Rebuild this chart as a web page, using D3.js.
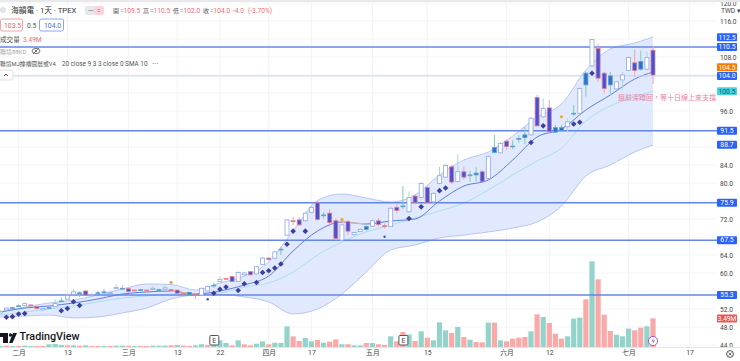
<!DOCTYPE html>
<html>
<head>
<meta charset="utf-8">
<script src="https://cdn.jsdelivr.net/npm/d3@7/dist/d3.min.js"></script>
<style>
  html, body { margin: 0; padding: 0; background: #fff; }
  svg { display: block; }
  text { font-family: Roboto, "Noto Sans CJK TC", sans-serif; }
</style>
</head>
<body>
<svg id="chart" width="740" height="361"></svg>
<script>
// candles
const opens = [51.1,51.8,52.3,52.6,52.8,52.9,52.5,51.8,52.3,52.5,53.8,54.2,55.2,55.6,56.0,55.0,55.6,55.8,55.4,56.5,56.6,56.5,56.2,56.3,56.2,56.3,56.3,56.4,56.3,56.2,55.5,55.7,55.3,55.1,56.0,57.3,58.1,58.8,59.2,58.1,59.6,60.3,59.8,61.9,63.3,63.3,65.3,68.4,71.6,71.8,71.6,73.5,75.6,72.9,73.3,71.6,67.3,71.4,68.5,69.2,70.3,70.4,71.6,70.5,70.3,74.6,74.9,73.6,77.1,76.8,79.0,75.8,79.9,81.3,83.6,80.3,82.5,81.8,82.2,82.5,81.0,87.9,86.7,89.3,88.2,89.9,90.7,90.7,99.0,94.7,96.7,92.3,92.3,92.5,95.5,95.5,104.4,106.0,109.9,104.4,103.8,100.9,102.9,105.0,106.7,107.0,105.3,109.5];
const closes = [51.5,52.2,52.3,52.7,53.2,52.7,52.1,52.1,52.3,53.2,53.8,55.0,55.8,55.4,55.1,55.2,55.6,55.8,55.7,56.8,56.6,55.9,56.2,56.1,56.2,56.6,56.3,56.7,56.2,55.5,55.5,55.2,55.1,56.6,57.0,57.3,58.6,58.8,58.1,60.1,60.0,59.6,61.4,63.3,63.0,64.7,65.3,71.8,71.6,70.7,73.3,74.6,71.9,72.9,71.2,67.7,70.7,69.3,69.0,69.7,69.7,71.6,70.8,70.5,74.4,73.9,74.9,76.8,75.6,79.9,75.6,77.7,81.6,83.9,80.2,82.5,81.3,81.8,81.8,80.3,85.9,86.8,88.8,88.1,88.2,89.9,90.1,94.4,92.7,96.6,91.4,91.3,91.6,93.6,95.5,101.0,101.8,111.9,103.3,101.0,101.8,102.5,104.0,107.9,105.0,105.3,107.9,104.0];
const highs = [51.8,52.4,52.5,53.0,53.4,53.0,52.6,52.2,52.5,54.1,54.6,55.5,56.4,55.9,56.1,55.5,56.0,56.4,55.8,57.3,57.3,56.6,56.3,56.4,56.3,57.1,56.5,57.6,56.4,56.4,55.6,55.8,55.3,56.8,57.2,57.9,59.2,58.9,59.3,60.4,60.3,60.4,61.6,63.6,63.5,65.0,65.9,72.0,72.5,72.4,73.6,74.9,76.0,73.6,74.2,72.2,71.0,71.8,69.2,70.0,70.8,71.9,72.2,71.0,74.7,75.3,79.3,78.1,77.5,80.2,79.4,78.0,83.6,84.2,84.0,86.4,83.6,82.7,83.5,82.8,86.2,90.7,89.1,89.6,89.5,90.6,92.5,94.7,99.6,98.8,98.4,92.9,92.9,94.4,97.3,101.3,104.7,112.0,111.0,104.7,104.7,102.7,104.7,108.1,109.6,109.4,109.2,110.5];
const lows = [50.9,51.6,52.1,52.5,52.7,52.6,51.9,51.7,52.2,52.4,53.6,54.1,55.1,54.7,55.1,54.9,55.3,55.7,55.3,56.4,56.4,55.6,56.1,56.0,56.1,56.3,56.2,56.3,55.8,55.2,55.2,55.1,54.2,55.0,55.9,56.7,57.9,58.6,58.0,58.0,59.4,59.5,59.7,61.8,62.8,63.2,64.0,68.2,70.7,70.5,71.4,73.3,71.7,72.1,70.3,67.3,67.2,68.5,68.3,69.0,69.4,70.2,70.4,69.9,70.2,73.3,74.2,73.3,75.3,76.6,75.4,75.6,79.7,81.1,79.8,80.1,80.7,80.3,80.3,80.1,80.8,86.6,86.5,87.3,87.5,88.9,88.6,90.5,92.5,94.4,91.2,91.1,91.4,91.4,94.9,95.3,99.2,105.8,102.5,99.9,99.9,100.7,100.8,104.8,103.6,105.0,105.0,102.0];
// h = hollow, r = solid with red wick, t = solid with teal wick
const kinds = ["hhtthrrhth","thhtrhtthh","trrtrhthrr","rtrhhthrrh","hrhhrhthrr","hhrtrrhrhh","thrrhrthrh","rhhhrhrttr","hthrttthrh","rtthththrr","thhhrthr"].join("");

// volume in millions
const volumes = [0.12,0.16,0.12,0.12,0.16,0.12,0.12,0.12,0.33,0.37,0.24,0.20,0.20,0.16,0.20,0.12,0.12,0.12,0.12,0.16,0.16,0.16,0.12,0.12,0.12,0.16,0.16,0.16,0.20,0.24,0.16,0.12,0.20,0.33,0.24,0.37,0.81,0.49,0.20,0.81,0.33,0.20,0.41,0.69,0.33,0.53,0.49,2.52,1.30,0.73,1.10,0.69,0.85,0.53,0.65,0.93,0.33,0.33,0.20,0.20,0.49,0.49,0.33,0.24,1.30,0.69,1.83,1.54,0.73,1.91,1.14,0.81,3.01,2.03,1.71,2.44,1.22,0.89,0.61,0.57,2.97,2.97,0.81,0.69,1.02,1.14,1.22,1.91,3.98,3.66,2.93,1.63,1.02,1.30,3.46,3.58,5.81,10.45,8.25,3.94,1.95,1.50,1.30,2.24,2.03,2.36,2.52,3.49];
const volColors = ["trtrttrrtt","trtrtrrtrt","trtrrtttrt","rrttrtttrt","rrttrtttrr","ttrtrrtrtt","rtrrtrrtrt","rtttrtrtrr","trtrrrrtrt","rrrtttrtrr","rtttrrtr"].join("");

// bollinger band and the two averages, read every fourth candle
const bandIdx = [0,4,8,12,16,20,24,28,32,36,40,44,48,52,56,60,64,68,72,76,80,84,88,92,96,100,104,107];
const upper = [51.33,52.44,53.33,54,55.11,56.44,57.56,57.44,56.22,57.78,59.33,62.44,69.33,76.09,77.56,76.67,75.78,77.33,81.78,85.11,86.89,90.44,94.67,97.56,105.11,109.78,111.11,112.44];
const lower = [50.22,50.44,50.67,50,50.22,51.11,52.22,54.22,55.11,55.22,54.67,53.56,50.89,52,55.33,60.22,65.11,66.22,67.78,68.44,69.11,70,71.33,74.89,81.56,84,86.89,88.44];
const basis = [51.33,52.22,52.67,53.33,54.22,55.33,55.78,56,55.33,56,57.33,59.33,64.89,69.33,71.33,70.89,71.56,72,76,79.33,80.67,85.11,90.22,92,96.22,99.56,103.11,104.67];
const slowLine = [50.67,51.33,52,52.67,53.56,54.44,54.89,55.33,55.33,55.56,56.89,57.78,60.22,64,66.89,69.11,70.67,72.22,73.78,75.56,78.44,81.78,84.89,87.78,93.78,97.11,99.11,100.44];

// markers
const diamondIdx = [1,2,3,4,10,11,12,13,35,36,37,39,40,42,43,44,45,46,47,48,50,67,69,72,73,87,89,94,95,97];
const diamondVal = [50.16,50.3,50.9,51,51.6,52.1,53.6,52.8,55.5,56.4,56.9,56.1,57.6,57.9,60.1,60.5,61.1,62,66.4,69.3,69.3,72.1,74.7,78.3,78.9,89,92.7,93.1,93.5,104.4];
const dotIdx = [34,63];
const dotVal = [54.16,68.07];
const orangeIdx = [28,56,92];
const orangeVal = [57.9,71.9,94.7];

// price levels
const levelVal = [110.2,91.6,75.6,67.3,55.1];
const lastPrice = 103.8;
const tagVal = [112.4,110.2,105.7,103.8,100.4,91.6,88.5,75.6,67.3,55.1];
const tagText = ["112.5","110.5","104.5","104.0","100.5","91.5","88.7","75.9","67.5","55.3"];
const tagKind = ["b","b","o","b","c","b","b","b","b","b"];
const yTicks = [120,116,108,96,84,80,72,64,60,52,48,44];
const yGrid = d3.range(44, 121, 4);
const xTickIdx = [3,11,21,29,36,44,51,61,70,83,90,103,113];
const xTickText = ["二月","13","三月","13","22","四月","17","五月","15","六月","12","七月","17"];
const earningsIdx = [35,66];

const svg = d3.select("#chart");
const x = d3.scaleLinear().domain([0, 107]).range([0.3, 653]);
const y = d3.scaleLinear().domain([116, 44]).range([21, 345]);
const yVol = d3.scaleLinear().domain([0, 10.45]).range([347, 261.3]);

// grid
svg.append("g").selectAll("line").data(xTickIdx).join("line")
    .attr("x1", d => x(d)).attr("x2", d => x(d)).attr("y1", 3).attr("y2", 347)
    .attr("stroke", "#f2f3f6");
svg.append("g").selectAll("line").data(yGrid).join("line")
    .attr("x1", 0).attr("x2", 717).attr("y1", d => y(d)).attr("y2", d => y(d))
    .attr("stroke", "#f4f5f8");

// volume bars
svg.append("g").selectAll("rect").data(volumes).join("rect")
    .attr("x", (d, i) => x(i) - 2.6)
    .attr("width", 5.2)
    .attr("y", d => yVol(d))
    .attr("height", d => 347 - yVol(d))
    .attr("fill", (d, i) => volColors[i] == "t" ? "#93d3c9" : "#f8a9a8");

// band
const bandArea = d3.area()
    .x((d, i) => x(bandIdx[i]))
    .y0((d, i) => y(lower[i]))
    .y1((d, i) => y(upper[i]))
    .curve(d3.curveMonotoneX);
svg.append("path").attr("d", bandArea(bandIdx)).attr("fill", "#e1e9fe");

function lineOf(values) {
    return d3.line().x((d, i) => x(bandIdx[i])).y((d, i) => y(values[i])).curve(d3.curveMonotoneX)(bandIdx);
}
svg.append("path").attr("d", lineOf(upper)).attr("fill", "none").attr("stroke", "#a9b9ee").attr("stroke-width", 0.8);
svg.append("path").attr("d", lineOf(lower)).attr("fill", "none").attr("stroke", "#a9b9ee").attr("stroke-width", 0.8);
svg.append("path").attr("d", lineOf(slowLine)).attr("fill", "none").attr("stroke", "#a5dcec").attr("stroke-width", 0.9);
svg.append("path").attr("d", lineOf(basis)).attr("fill", "none").attr("stroke", "#5f7de0").attr("stroke-width", 1);

// basis goes orange where it falls
d3.range(bandIdx.length - 1).filter(i => basis[i + 1] < basis[i]).forEach(i => {
    svg.append("line")
        .attr("x1", x(bandIdx[i])).attr("y1", y(basis[i]))
        .attr("x2", x(bandIdx[i + 1])).attr("y2", y(basis[i + 1]))
        .attr("stroke", "#eeb98e")
        .attr("stroke-width", 1.2);
});

// levels
svg.append("line").attr("x1", 14).attr("x2", 717).attr("y1", y(lastPrice)).attr("y2", y(lastPrice))
    .attr("stroke", "#c8d0f3").attr("stroke-width", 1);
svg.append("g").selectAll("line").data(levelVal).join("line")
    .attr("x1", 0).attr("x2", 717).attr("y1", d => y(d)).attr("y2", d => y(d))
    .attr("stroke", "#6486e6").attr("stroke-width", 1.5);

// candles
const candle = svg.append("g").selectAll("g").data(opens).join("g");
candle.append("line")
    .attr("x1", (d, i) => x(i)).attr("x2", (d, i) => x(i))
    .attr("y1", (d, i) => y(highs[i])).attr("y2", (d, i) => y(lows[i]))
    .attr("stroke", (d, i) => kinds[i] == "r" ? "#f2a3aa" : kinds[i] == "t" ? "#7fcbb9" : "#a3dccf")
    .attr("stroke-width", 1);
candle.append("rect")
    .attr("x", (d, i) => x(i) - 2)
    .attr("width", 4)
    .attr("y", (d, i) => y(Math.max(opens[i], closes[i])))
    .attr("height", (d, i) => Math.max(Math.abs(y(opens[i]) - y(closes[i])), 0.8))
    .attr("fill", (d, i) => kinds[i] == "h" ? "#fff" : kinds[i] == "t" ? "#2f6fd0" : "#3e55da")
    .attr("stroke", (d, i) => kinds[i] == "h" ? "#8ea6ec" : kinds[i] == "t" ? "#5aa7c8" : "#ea7d88")
    .attr("stroke-width", 0.8);

// markers
svg.append("g").selectAll("path").data(diamondIdx).join("path")
    .attr("d", d3.symbol().type(d3.symbolDiamond2).size(20))
    .attr("transform", (d, i) => `translate(${x(d)},${y(diamondVal[i])})`)
    .attr("fill", "#3c3f9e");
svg.append("g").selectAll("circle").data(dotIdx).join("circle")
    .attr("cx", d => x(d)).attr("cy", (d, i) => y(dotVal[i])).attr("r", 1.2)
    .attr("fill", "#3d50c6");
svg.append("g").selectAll("circle").data(orangeIdx).join("circle")
    .attr("cx", d => x(d)).attr("cy", (d, i) => y(orangeVal[i])).attr("r", 1.7)
    .attr("fill", "#f2a93b");

// axes
const yAxis = d3.axisRight(y).tickValues(yTicks).tickSize(0).tickFormat(d3.format(".1f"));
const gy = svg.append("g").attr("transform", "translate(720,0)").call(yAxis);
gy.select(".domain").remove();
gy.selectAll("text").attr("x", 0).attr("dy", "0.32em").attr("font-size", 6.6)
    .attr("fill", "#444").style("font-family", "Roboto");
svg.append("rect").attr("x", 0).attr("y", 0).attr("width", 740).attr("height", 2).attr("fill", "#e9e9ec");

const xAxis = d3.axisBottom(x).tickValues(xTickIdx).tickSize(0).tickFormat((d, i) => xTickText[i]);
const gx = svg.append("g").attr("transform", "translate(0,347)").call(xAxis);
gx.select(".domain").attr("stroke", "#e4e5ea").attr("d", "M0,0.5H740");
gx.selectAll("text").attr("y", 3).attr("font-size", 6.8).attr("fill", "#444");

// price tags
const tag = svg.append("g").selectAll("g").data(tagVal).join("g")
    .attr("transform", d => `translate(717,${y(d)})`);
tag.append("rect").attr("x", 0).attr("y", -4).attr("width", 20).attr("height", 8).attr("rx", 1)
    .attr("fill", (d, i) => tagKind[i] == "o" ? "#f57c00" : tagKind[i] == "c" ? "#45d3e0" : "#2962ff");
tag.append("text").attr("x", 10).attr("dy", "0.34em").attr("text-anchor", "middle").attr("font-size", 6.8)
    .attr("fill", (d, i) => tagKind[i] == "c" ? "#0b5f66" : "#fff")
    .text((d, i) => tagText[i]);
svg.append("rect").attr("x", 717).attr("y", yVol(3.49) - 4).attr("width", 20).attr("height", 8).attr("rx", 1).attr("fill", "#ef5350");
svg.append("text").attr("x", 727).attr("y", yVol(3.49)).attr("dy", "0.34em").attr("text-anchor", "middle")
    .attr("font-size", 6.6).attr("fill", "#fff").text("3.49M");
svg.append("text").attr("x", 721).attr("y", 13).attr("font-size", 6.6).attr("fill", "#444").text("TWD ▾");

// note
svg.append("text").attr("x", 618).attr("y", 100).attr("font-size", 7).attr("fill", "#e57fa2").text("還前深蹲回，等十日線上來支撐");

// earnings marks and flash
earningsIdx.forEach(d => {
    svg.append("rect").attr("x", x(d) - 4).attr("y", 335.5).attr("width", 9).attr("height", 9.5).attr("rx", 1)
        .attr("fill", "#fff").attr("stroke", "#555").attr("stroke-width", 1);
    svg.append("text").attr("x", x(d) + 0.5).attr("y", 343).attr("text-anchor", "middle").attr("font-size", 7).attr("fill", "#444").text("E");
});
svg.append("circle").attr("cx", x(107)).attr("cy", 341).attr("r", 4.6).attr("fill", "#fff").attr("stroke", "#a55bc9");
svg.append("path").attr("d", `M${x(107) + 1},337.5l-2.5,4h2l-1,3l2.5,-4h-2z`).attr("fill", "#a55bc9");
svg.append("circle").attr("cx", 730).attr("cy", 354).attr("r", 3.4).attr("fill", "none").attr("stroke", "#555");
svg.append("path").attr("d", "M728.5,352.5l3,3m0,-3l-3,3").attr("stroke", "#555").attr("stroke-width", 0.8);

// watermark
const logo = svg.append("g").attr("fill", "#131722");
logo.append("path").attr("d", "M-2,333H8V343H3V337H-2Z");
logo.append("circle").attr("cx", 10.5).attr("cy", 335).attr("r", 1.7);
logo.append("path").attr("d", "M9,343L13,333H17L12.5,343Z");
svg.append("text").attr("x", 19.5).attr("y", 340).attr("font-size", 10.8).attr("font-weight", 500).attr("fill", "#131722").text("TradingView");

// legend
const gray = "#555", red = "#ef6b75";
function label(tx, ty, text, fill, size) {
    return svg.append("text").attr("x", tx).attr("y", ty).attr("font-size", size || 7).attr("fill", fill).text(text);
}
svg.append("circle").attr("cx", 3).attr("cy", 10).attr("r", 3).attr("fill", "#e3e4e8");
label(11, 13, "海韻電 · 1天 · TPEX", "#333", 7.7);
svg.append("rect").attr("x", 85).attr("y", 6).attr("width", 10).attr("height", 9).attr("rx", 2).attr("fill", "#e6e7ea");
svg.append("rect").attr("x", 94).attr("y", 6).attr("width", 10).attr("height", 9).attr("rx", 2).attr("fill", "#fbd3dc");
label(88, 13, "一", "#555", 5.5);
label(97, 13, "=", "#e0507a", 6.5);
const ohlcLabels = ["開", "高", "低", "收"];
const ohlcValues = ["=109.5", "=110.5", "=102.0", "=104.0"];
ohlcLabels.forEach((d, i) => {
    label(113 + i * 30, 13, d, gray, 6);
    label(120 + i * 30, 13, ohlcValues[i], red, 6.6);
});
label(233, 13, "-4.0", red, 6.6);
label(248, 13, "(-3.70%)", red, 6.6);
svg.append("rect").attr("x", 0.5).attr("y", 19).attr("width", 22).attr("height", 12).attr("rx", 2).attr("fill", "#fff").attr("stroke", "#f0a3a8");
label(4, 27.5, "103.5", "#e2646c", 6.8);
label(27, 27.5, "0.5", gray, 6.8);
svg.append("rect").attr("x", 39.5).attr("y", 19).attr("width", 24).attr("height", 12).attr("rx", 2).attr("fill", "#fff").attr("stroke", "#8ea6ec");
label(44, 27.5, "104.0", "#4a6fdc", 6.8);
label(0, 42, "成交量", gray, 6.6);
label(23, 42, "3.49M", red, 6.6);
label(0, 54, "聯境88KD", "#a5a5a8", 6);
svg.append("ellipse").attr("cx", 36).attr("cy", 51).attr("rx", 4).attr("ry", 2.6).attr("fill", "none").attr("stroke", "#555").attr("stroke-width", 0.8);
svg.append("circle").attr("cx", 36).attr("cy", 51).attr("r", 1).attr("fill", "#555");
svg.append("path").attr("d", "M33,54L39,48").attr("stroke", "#555").attr("stroke-width", 0.7);
label(0, 66, "聯境MJ撞槽圖層或V4", gray, 5.8);
label(62, 66, "20 close 9 3 3 close 0 SMA 10", gray, 6.4);
label(152, 66, "···", gray, 8);
svg.append("rect").attr("x", -1).attr("y", 70).attr("width", 14).attr("height", 10).attr("rx", 2).attr("fill", "#fff").attr("stroke", "#dcdde3");
svg.append("path").attr("d", "M4,76l2,-2l2,2").attr("fill", "none").attr("stroke", "#333").attr("stroke-width", 0.9);
</script>
</body>
</html>
